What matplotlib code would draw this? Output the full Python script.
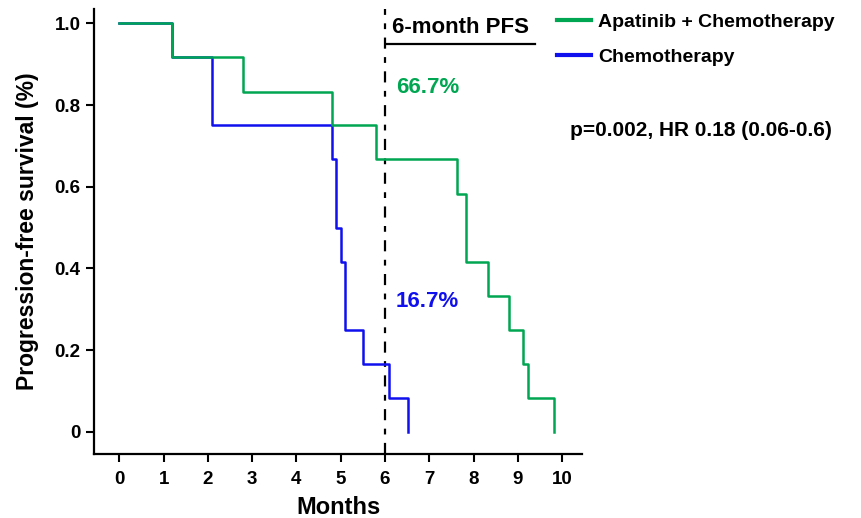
import matplotlib
matplotlib.use('Agg')
import matplotlib.pyplot as plt

plt.rcParams['font.family'] = ['Liberation Sans', 'DejaVu Sans']
plt.rcParams['font.weight'] = 'bold'

# Kaplan-Meier steps (months, survival fraction)
apat_months = [0, 1.18, 2.79, 4.80, 5.80, 7.63, 7.82, 8.32, 8.81, 9.12, 9.22, 9.82]
apat_surv = [1.0, 0.917, 0.833, 0.75, 0.667, 0.583, 0.417, 0.333, 0.25, 0.167, 0.083, 0.0]

chemo_months = [0, 1.18, 2.09, 4.81, 4.89, 5.00, 5.10, 5.50, 6.10, 6.51]
chemo_surv = [1.0, 0.917, 0.75, 0.667, 0.5, 0.417, 0.25, 0.167, 0.083, 0.0]

x_ticks = [0, 1, 2, 3, 4, 5, 6, 7, 8, 9, 10]
y_ticks = [0, 0.2, 0.4, 0.6, 0.8, 1.0]
y_tick_labels = ['0', '0.2', '0.4', '0.6', '0.8', '1.0']

green = '#00A651'
blue = '#1010EE'

fig = plt.figure(figsize=(8.62, 5.18), dpi=100)
ax = fig.add_axes([0.1094, 0.1236, 0.5658, 0.859])

ax.step(chemo_months, chemo_surv, where='post', color=blue, lw=1.8, label='Chemotherapy', zorder=2)
ax.step(apat_months, apat_surv, where='post', color=green, lw=1.8, label='Apatinib + Chemotherapy', zorder=3)

# 6-month marker, long-short dash pattern
ax.axvline(6, color='black', lw=1.6, dashes=[5, 3.8, 2.6, 3.8], zorder=1)

ax.set_xlim(-0.565, 10.45)
ax.set_ylim(-0.054, 1.035)
ax.set_xticks(x_ticks)
ax.set_yticks(y_ticks)
ax.set_yticklabels(y_tick_labels)

for s in ['top', 'right']:
    ax.spines[s].set_visible(False)
for s in ['left', 'bottom']:
    ax.spines[s].set_linewidth(1.6)

ax.tick_params(axis='both', length=6, width=1.5, labelsize=13.5)
ax.tick_params(axis='x', pad=6)
ax.tick_params(axis='y', pad=4)

ax.set_xlabel('Months', fontsize=17, fontweight='bold', labelpad=6)
ax.set_ylabel('Progression-free survival (%)', fontsize=16.5, fontweight='bold', labelpad=11)

ax.text(6.16, 0.99, '6-month PFS', fontsize=16, fontweight='bold', va='center', ha='left')
ax.plot([6.02, 9.39], [0.949, 0.949], color='black', lw=1.6, clip_on=False)
ax.text(6.25, 0.844, '66.7%', fontsize=16, fontweight='bold', color=green, va='center', ha='left')
ax.text(6.25, 0.318, '16.7%', fontsize=16, fontweight='bold', color=blue, va='center', ha='left')
ax.text(10.18, 0.738, 'p=0.002, HR 0.18 (0.06-0.6)', fontsize=15, fontweight='bold', va='center', ha='left')

handles, labels = ax.get_legend_handles_labels()
leg = ax.legend(handles[::-1], labels[::-1], loc='upper left', bbox_to_anchor=(0.948, 0.99),
                frameon=False, fontsize=14, handlelength=1.75, handletextpad=0.4,
                labelspacing=0.9, borderpad=0, borderaxespad=0)
for line in leg.get_lines():
    line.set_linewidth(3)

fig.savefig('out.png', dpi=100)
